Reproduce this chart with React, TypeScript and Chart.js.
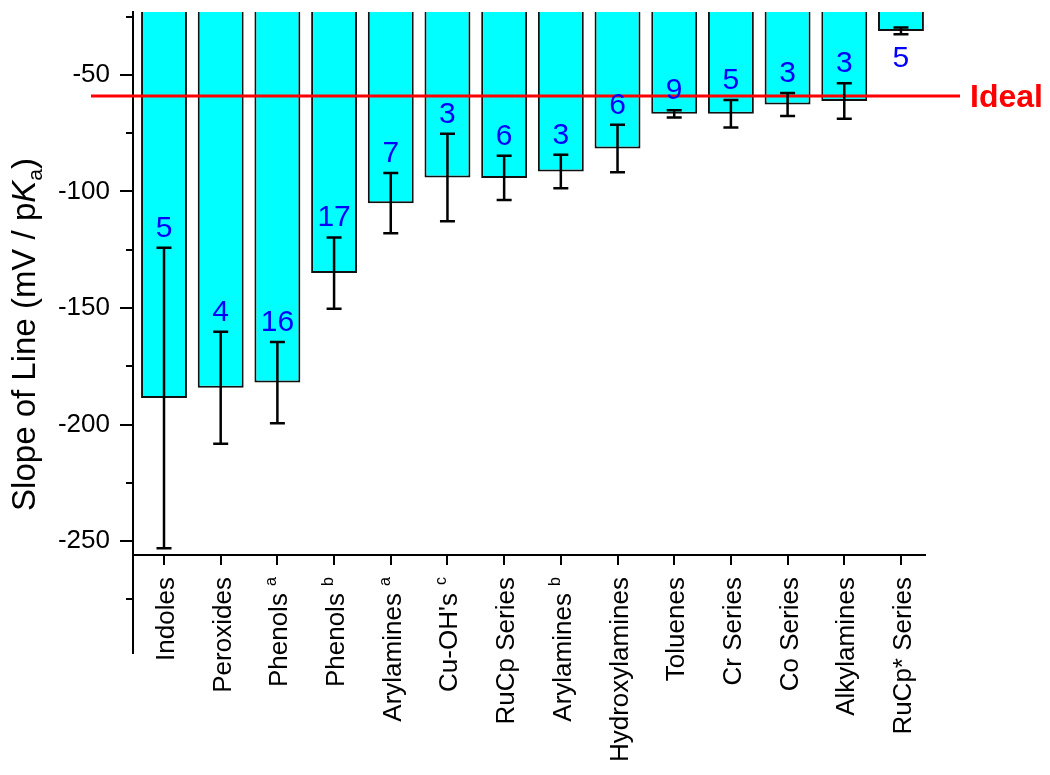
import React, { useEffect, useRef } from 'react';
import { Chart, registerables } from 'chart.js';

Chart.register(...registerables);

const categories = [
  'Indoles', 'Peroxides', 'Phenols', 'Phenols', 'Arylamines', "Cu-OH's", 'RuCp Series',
  'Arylamines', 'Hydroxylamines', 'Toluenes', 'Cr Series', 'Co Series', 'Alkylamines', 'RuCp* Series',
];
const notes = ['', '', 'a', 'b', 'a', 'c', '', 'b', '', '', '', '', '', ''];
const slopes = [-188.6, -184.2, -182.0, -135.0, -105.0, -94.0, -94.2, -91.4, -81.6, -66.7, -66.6, -62.7, -61.2, -31.1];
const errors = [64.5, 24.0, 17.4, 15.3, 12.9, 18.8, 9.5, 7.2, 10.2, 1.6, 5.9, 4.9, 7.6, 1.4];
const counts = [5, 4, 16, 17, 7, 3, 6, 3, 6, 9, 5, 3, 3, 5];
const yMajorTicks = [-50, -100, -150, -200, -250];
const yMinorTicks = [-25, -75, -125, -175, -225, -275];
const idealSlope = -59;
const idealLabel = 'Ideal';
const xAxisAt = -256;

const FONT = '"Liberation Sans", Arial, Helvetica, sans-serif';

export default function App() {
  const ref = useRef<HTMLCanvasElement>(null);

  useEffect(() => {
    if (!ref.current) return;

    const overlay = {
      id: 'overlay',
      afterDatasetsDraw(chart: any) {
        const ctx: CanvasRenderingContext2D = chart.ctx;
        const xs = chart.scales.x;
        const ys = chart.scales.y;
        const area = chart.chartArea;
        ctx.save();

        // y-axis tick marks
        ctx.strokeStyle = '#000';
        ctx.lineWidth = 2;
        ctx.beginPath();
        yMajorTicks.forEach((v) => {
          const y = Math.round(ys.getPixelForValue(v));
          ctx.moveTo(area.left - 13, y);
          ctx.lineTo(area.left, y);
        });
        yMinorTicks.forEach((v) => {
          const y = Math.round(ys.getPixelForValue(v));
          ctx.moveTo(area.left - 7, y);
          ctx.lineTo(area.left, y);
        });
        // x-axis tick marks
        const axisY = ys.getPixelForValue(xAxisAt);
        categories.forEach((_, i) => {
          const x = Math.round(xs.getPixelForValue(i));
          ctx.moveTo(x, axisY);
          ctx.lineTo(x, axisY + 10);
        });
        ctx.stroke();

        // ideal line
        const iy = ys.getPixelForValue(idealSlope);
        ctx.strokeStyle = '#ff0000';
        ctx.lineWidth = 3;
        ctx.beginPath();
        ctx.moveTo(area.left - 42, iy);
        ctx.lineTo(area.right + 35, iy);
        ctx.stroke();
        ctx.fillStyle = '#ff0000';
        ctx.font = `bold 32px ${FONT}`;
        ctx.textAlign = 'left';
        ctx.textBaseline = 'alphabetic';
        ctx.fillText(idealLabel, area.right + 45, iy + 11.5);

        // error bars
        ctx.strokeStyle = '#000';
        ctx.lineWidth = 2.5;
        slopes.forEach((v, i) => {
          const x = xs.getPixelForValue(i);
          const top = ys.getPixelForValue(v + errors[i]);
          const bot = ys.getPixelForValue(v - errors[i]);
          ctx.beginPath();
          ctx.moveTo(x, top);
          ctx.lineTo(x, bot);
          ctx.moveTo(x - 7.5, top);
          ctx.lineTo(x + 7.5, top);
          ctx.moveTo(x - 7.5, bot);
          ctx.lineTo(x + 7.5, bot);
          ctx.stroke();
        });

        // counts
        ctx.fillStyle = '#0000ff';
        ctx.font = `30px ${FONT}`;
        ctx.textAlign = 'center';
        ctx.textBaseline = 'alphabetic';
        slopes.forEach((v, i) => {
          const x = xs.getPixelForValue(i);
          const top = ys.getPixelForValue(v + errors[i]);
          const bot = ys.getPixelForValue(v - errors[i]);
          if (top - 40 < area.top) {
            ctx.fillText(String(counts[i]), x, bot + 33);
          } else {
            ctx.fillText(String(counts[i]), x, top - 11);
          }
        });

        // category labels
        ctx.fillStyle = '#000';
        categories.forEach((label, i) => {
          const x = xs.getPixelForValue(i);
          ctx.save();
          ctx.translate(x, axisY + 22);
          ctx.rotate(-Math.PI / 2);
          ctx.textAlign = 'right';
          ctx.textBaseline = 'alphabetic';
          let off = 0;
          if (notes[i]) {
            ctx.font = `16px ${FONT}`;
            ctx.fillText(notes[i], 0, -1);
            off = 16;
          }
          ctx.font = `26px ${FONT}`;
          ctx.fillText(label, -off, 10);
          ctx.restore();
        });

        // y title
        const segs = [
          { t: 'Slope of Line (mV / p', f: `33px ${FONT}`, dy: 0 },
          { t: 'K', f: `italic 33px ${FONT}`, dy: 0 },
          { t: 'a', f: `21px ${FONT}`, dy: 7 },
          { t: ')', f: `33px ${FONT}`, dy: 0 },
        ];
        let total = 0;
        const widths = segs.map((s) => {
          ctx.font = s.f;
          const w = ctx.measureText(s.t).width;
          total += w;
          return w;
        });
        ctx.save();
        ctx.translate(35, (area.top + area.bottom) / 2 + 2);
        ctx.rotate(-Math.PI / 2);
        ctx.textAlign = 'left';
        ctx.textBaseline = 'alphabetic';
        let px = -total / 2;
        segs.forEach((s, k) => {
          ctx.font = s.f;
          ctx.fillText(s.t, px, s.dy);
          px += widths[k];
        });
        ctx.restore();

        ctx.restore();
      },
    };

    const chart = new Chart(ref.current, {
      type: 'bar',
      data: {
        datasets: [
          {
            label: 'Slope',
            data: slopes.map((v, i) => ({ x: i, y: v })),
            backgroundColor: '#00ffff',
            borderColor: '#111111',
            borderWidth: 2,
            barPercentage: 0.81,
            categoryPercentage: 1,
            clip: 0,
          } as any,
        ],
      },
      options: {
        responsive: false,
        animation: false,
        devicePixelRatio: 1,
        layout: { padding: { left: 0, right: 125, top: 12, bottom: 122 } },
        plugins: { legend: { display: false }, tooltip: { enabled: false }, title: { display: false } },
        scales: {
          x: {
            type: 'linear',
            offset: false,
            min: -0.547,
            max: 13.424,
            position: { y: xAxisAt } as any,
            afterBuildTicks: (scale: any) => {
              scale.ticks = categories.map((_, i) => ({ value: i }));
            },
            afterFit: (scale: any) => {
              scale.paddingLeft = 0;
              scale.paddingRight = 0;
            },
            ticks: { display: false },
            grid: { display: true, offset: false, drawOnChartArea: false, drawTicks: false },
            border: { display: true, color: '#000', width: 2 },
          },
          y: {
            type: 'linear',
            position: 'left',
            min: -298,
            max: -23,
            afterBuildTicks: (scale: any) => {
              scale.ticks = yMajorTicks.map((v) => ({ value: v }));
            },
            afterFit: (scale: any) => {
              scale.width = 133;
              scale.paddingTop = 0;
              scale.paddingBottom = 0;
            },
            ticks: {
              color: '#000',
              font: { family: FONT, size: 26 },
              padding: 23,
              callback: (v: any) => String(v),
            },
            grid: { display: true, drawOnChartArea: false, drawTicks: false },
            border: { display: true, color: '#000', width: 2 },
          },
        },
      },
      plugins: [overlay],
    } as any);

    return () => chart.destroy();
  }, []);

  return (
    <div style={{ position: 'fixed', left: 0, top: 0, width: 1050, height: 775, background: '#fff' }}>
      <canvas ref={ref} width={1050} height={775} style={{ display: 'block' }} />
    </div>
  );
}
